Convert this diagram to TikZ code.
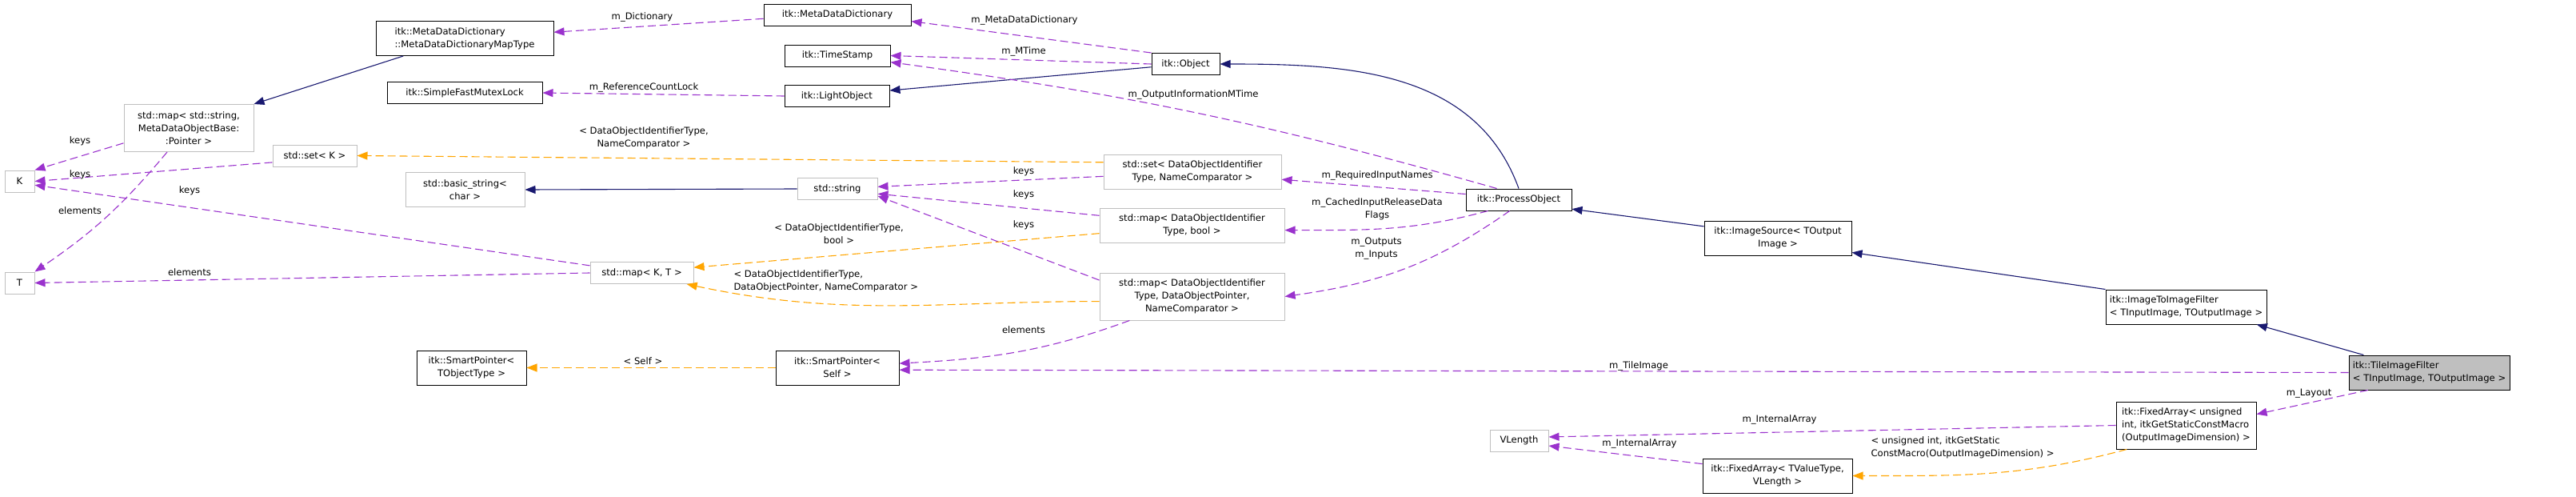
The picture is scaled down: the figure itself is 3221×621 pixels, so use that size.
\documentclass[tikz,border=0pt]{standalone}
\usepackage{fontspec}
\setmainfont{DejaVu Sans}
\usepackage{tikz}
\usetikzlibrary{arrows.meta,positioning}
\definecolor{inhblue}{RGB}{25,25,112}
\definecolor{usepurple}{RGB}{154,50,205}
\definecolor{tmplorange}{RGB}{255,165,0}
\definecolor{extgray}{RGB}{191,191,191}

\begin{document}
\begin{tikzpicture}[x=1pt,y=-1pt, font=\fontsize{11.6}{16}\selectfont,
  cls/.style={draw=black, fill=white, line width=1pt, inner sep=0pt, align=center, minimum height=27pt},
  ext/.style={cls, draw=extgray},
  cur/.style={cls, fill=extgray},
  lines2/.style={minimum height=43pt},
  lines3/.style={minimum height=59pt},
  inherit/.style={-{Triangle[length=13pt,width=10pt]}, inhblue, line width=1.1pt},
  member/.style={-{Triangle[length=13pt,width=10pt]}, usepurple, line width=1.1pt, dash pattern=on 10pt off 5pt},
  tmpl/.style={member, tmplorange},
  lbl/.style={text=black, inner sep=0pt, align=center}]
  \useasboundingbox (0,0) rectangle (3221,621);
  % classes, column by column
  \node[ext, minimum width=37pt] (K) at (24.5,226.5) {K};
  \node[ext, minimum width=37pt] (T) at (24.5,353.5) {T};
  \node[ext, lines3, minimum width=162pt] (stdmapstr) at (236,160) {std::map< std::string,\\ MetaDataObjectBase:\\:Pointer >};
  \node[ext, minimum width=105pt] (setk) at (393.5,194.5) {std::set< K >};
  \node[cls, lines2, minimum width=222pt, align=left] (mdmap) at (581,48) {itk::MetaDataDictionary\\::MetaDataDictionaryMapType};
  \node[cls, minimum width=194pt] (mutex) at (581,116) {itk::SimpleFastMutexLock};
  \node[ext, lines2, minimum width=149pt] (bstr) at (581.5,237) {std::basic\_string<\\char >};
  \node[cls, lines2, minimum width=137pt] (sptype) at (589.5,459.5) {itk::SmartPointer<\\ TObjectType >};
  \node[ext, minimum width=129pt] (mapkt) at (802.5,341) {std::map< K, T >};
  \node[cls, minimum width=184pt] (mdd) at (1047,18.5) {itk::MetaDataDictionary};
  \node[cls, minimum width=132pt] (tstamp) at (1047,69.5) {itk::TimeStamp};
  \node[cls, minimum width=131pt] (light) at (1046.5,120) {itk::LightObject};
  \node[ext, minimum width=100pt] (str) at (1047,236) {std::string};
  \node[cls, lines2, minimum width=154pt] (spself) at (1047,459.5) {itk::SmartPointer<\\ Self >};
  \node[cls, minimum width=85pt] (obj) at (1482.5,80) {itk::Object};
  \node[ext, lines2, minimum width=222pt] (setid) at (1491,214.5) {std::set< DataObjectIdentifier\\Type, NameComparator >};
  \node[ext, lines2, minimum width=231pt] (mapbool) at (1490.5,281.5) {std::map< DataObjectIdentifier\\Type, bool >};
  \node[ext, lines3, minimum width=231pt] (mapdop) at (1490.5,370.5) {std::map< DataObjectIdentifier\\Type, DataObjectPointer,\\ NameComparator >};
  \node[cls, minimum width=132pt] (po) at (1899,249.5) {itk::ProcessObject};
  \node[ext, minimum width=73pt] (vlen) at (1899.5,550.5) {VLength};
  \node[cls, lines2, minimum width=184pt] (isrc) at (2223,297.5) {itk::ImageSource< TOutput\\Image >};
  \node[cls, lines2, minimum width=187pt] (fatv) at (2222.5,594.5) {itk::FixedArray< TValueType,\\ VLength >};
  \node[cls, lines2, minimum width=201pt, align=left] (i2i) at (2733.5,383.5) {itk::ImageToImageFilter\\< TInputImage, TOutputImage >};
  \node[cls, lines3, minimum width=175pt, align=left] (faui) at (2733.5,531.5) {itk::FixedArray< unsigned\\ int, itkGetStaticConstMacro\\(OutputImageDimension) >};
  \node[cur, lines2, minimum width=201pt, align=left] (tif) at (3037.5,465.5) {itk::TileImageFilter\\< TInputImage, TOutputImage >};
  % inheritance
  \draw[inherit] (mdmap.196) -- (stdmapstr.north east);
  \draw[inherit] (obj.185) -- (light.6);
  \draw[inherit] (po.north) to[out=110,in=0] (obj.east);
  \draw[inherit] (str.west) -- (bstr.east);
  \draw[inherit] (isrc.171) -- (po.-10);
  \draw[inherit] (i2i.north west) -- (isrc.-11);
  \draw[inherit] (tif.165) -- (i2i.-14);
  % members
  \draw[member] (mdd.183) -- (mdmap.4)
    node[lbl] (lDict) at (803,21) {m\_Dictionary};
  \draw[member] (obj.north west) -- (mdd.-5)
    node[lbl] (lMdd) at (1281,25) {m\_MetaDataDictionary};
  \draw[member] (obj.west) -- (tstamp.east)
    node[lbl] (lMTime) at (1280,64) {m\_MTime};
  \draw[member] (light.west) -- (mutex.east)
    node[lbl] (lLock) at (805,109) {m\_ReferenceCountLock};
  \draw[member] (po.153) to[bend right=4] (tstamp.-7)
    node[lbl] (lOutMTime) at (1492,118) {m\_OutputInformationMTime};
  \draw[member] (po.174) -- (setid.-5)
    node[lbl] (lReq) at (1722,219) {m\_RequiredInputNames};
  \draw[member] (po.200) to[out=195,in=0] (mapbool.-3)
    node[lbl] (lCached) at (1722,261) {m\_CachedInputReleaseData\\Flags};
  \draw[member] (po.231) to[out=215,in=8] (mapdop.east)
    node[lbl] (lInOut) at (1721,311) {m\_Outputs\\m\_Inputs};
  \draw[member] (setid.183) -- (str.3)
    node[lbl] (lKeysA) at (1280,214) {keys};
  \draw[member] (mapbool.174) -- (str.-7)
    node[lbl] (lKeysB) at (1280,243) {keys};
  \draw[member] (mapdop.170) -- (str.-10)
    node[lbl] (lKeysC) at (1280,281) {keys};
  \draw[member] (mapdop.201) to[out=200,in=3] (spself.4)
    node[lbl] (lElemA) at (1280,412) {elements};
  \draw[member] (tif.west) -- (spself.-2)
    node[lbl] (lTile) at (2049,457) {m\_TileImage};
  \draw[member] (tif.196) -- (faui.9)
    node[lbl] (lLayout) at (2887,492) {m\_Layout};
  \draw[member] (faui.west) -- (vlen.7)
    node[lbl] (lArrA) at (2225,524) {m\_InternalArray};
  \draw[member] (fatv.171) -- (vlen.-10)
    node[lbl] (lArrB) at (2050,554) {m\_InternalArray};
  \draw[member] (mapkt.172) -- (K.-14)
    node[lbl] (lKeysD) at (237,238) {keys};
  \draw[member] (mapkt.west) -- (T.east)
    node[lbl] (lElemB) at (237,340) {elements};
  \draw[member] (setk.189) -- (K.east)
    node[lbl] (lKeysE) at (100,218) {keys};
  \draw[member] (stdmapstr.193) -- (K.north east)
    node[lbl] (lKeysF) at (100,176) {keys};
  \draw[member] (stdmapstr.228) to[bend left=8] (T.north east)
    node[lbl] (lElemC) at (100,263) {elements};
  % template instances
  \draw[tmpl] (setid.174) -- (setk.east)
    node[lbl] (lSetK) at (805,172) {< DataObjectIdentifierType,\\NameComparator >};
  \draw[tmpl] (mapbool.185) -- (mapkt.6)
    node[lbl] (lMapBool) at (1049,292) {< DataObjectIdentifierType,\\bool >};
  \draw[tmpl] (mapdop.183) to[out=180,in=-12] (mapkt.-14)
    node[lbl, anchor=west, align=left] (lMapDop) at (917,351) {< DataObjectIdentifierType,\\DataObjectPointer, NameComparator >};
  \draw[tmpl] (spself.west) -- (sptype.east)
    node[lbl] (lSelf) at (804,451) {< Self >};
  \draw[tmpl] (faui.202) to[out=195,in=0] (fatv.east)
    node[lbl, anchor=west, align=left] (lDim) at (2339,559) {< unsigned int, itkGetStatic\\ConstMacro(OutputImageDimension) >};
\end{tikzpicture}
\end{document}
